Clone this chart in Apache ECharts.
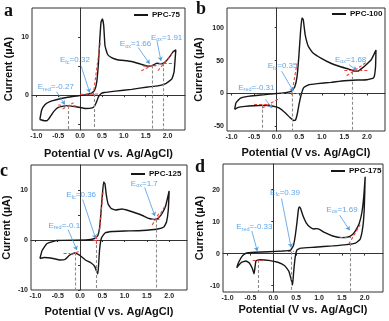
<!DOCTYPE html>
<html>
<head>
<meta charset="utf-8">
<script src="https://cdn.jsdelivr.net/npm/echarts@6/dist/echarts.min.js"></script>
<style>
  html, body { margin: 0; padding: 0; background: #fff; }
  #chart { width: 389px; height: 321px; }
</style>
</head>
<body>
<div id="chart"></div>
<script>
// x 轴刻度
const xTicks = [-1, -0.5, 0, 0.5, 1, 1.5, 2];

// CV 曲线 [电位 V, 电流 µA]
const cvA = [[-0.92,-4.2],[-0.88,-2.6],[-0.8,-1.6],[-0.69,-1.1],[-0.5,-0.7],[-0.31,-0.4],[-0.09,-0.15],[0.1,0.05],[0.25,0.3],[0.33,0.8],[0.38,2.2],[0.42,5.5],[0.45,9.5],[0.48,12.6],[0.51,13.1],[0.54,12],[0.57,8.5],[0.63,7.0],[0.73,6.4],[0.85,6.1],[0.96,6.0],[1.18,5.8],[1.4,5.3],[1.55,5.0],[1.66,5.1],[1.75,5.5],[1.85,5.4],[1.93,5.6],[2.04,6.5],[2.12,7.4],[2.19,7.8],
  [2.15,4.0],[2.1,2.8],[1.96,2.0],[1.78,1.6],[1.55,1.4],[1.18,1.0],[0.81,0.7],[0.55,0.45],[0.47,0.2],[0.42,-0.3],[0.38,-1.1],[0.33,-1.9],[0.28,-2.2],[0.13,-2.3],[-0.09,-2.0],[-0.31,-1.8],[-0.5,-2.1],[-0.6,-2.8],[-0.69,-3.8],[-0.76,-4.4],[-0.82,-4.4],[-0.92,-4.2]];
const cvB = [[-0.93,-24],[-0.9,-14],[-0.8,-7],[-0.6,-4],[-0.3,-2],[0,0],[0.2,1.2],[0.33,3.5],[0.4,10],[0.45,25],[0.49,55],[0.53,95],[0.56,115],[0.59,112],[0.63,90],[0.7,72],[0.8,62],[1.0,53],[1.2,46],[1.4,41],[1.6,37],[1.72,34],[1.8,34],[1.9,39],[2.0,45],[2.1,52],[2.2,66],
  [2.19,40],[2.15,24],[2.0,21],[1.8,20.5],[1.5,19.5],[1.2,17],[0.9,15],[0.7,13],[0.6,9],[0.55,0],[0.5,-15],[0.46,-30],[0.42,-40],[0.38,-41],[0.3,-37],[0.2,-30],[0.05,-22],[-0.1,-19],[-0.3,-18],[-0.5,-18.5],[-0.7,-19.5],[-0.85,-21],[-0.93,-24]];
const cvC = [[-0.9,-3.7],[-0.85,-2.1],[-0.74,-0.7],[-0.52,-0.1],[0.13,0],[0.33,0.3],[0.4,0.9],[0.44,2.5],[0.47,5.5],[0.5,9],[0.53,11.6],[0.56,11.2],[0.59,9],[0.63,7.2],[0.7,6.3],[0.8,6],[0.94,6.2],[1.08,5.9],[1.25,5.4],[1.4,4.9],[1.55,4.3],[1.68,4.1],[1.76,4.4],[1.84,5.3],[1.92,6.8],[2.0,9.8],
  [1.98,6],[1.94,3.6],[1.88,2.6],[1.74,2.2],[1.4,1.9],[1.0,1.8],[0.72,1.7],[0.56,1.4],[0.48,0.4],[0.44,-1.8],[0.42,-4.5],[0.4,-6.8],[0.37,-6.2],[0.33,-5.3],[0.25,-4.6],[0.12,-4.0],[0.0,-3.1],[-0.12,-2.6],[-0.23,-3.0],[-0.34,-3.9],[-0.45,-4.0],[-0.6,-3.7],[-0.8,-3.5],[-0.9,-3.7]];
const cvD = [[-0.8,-4.4],[-0.76,-2.8],[-0.68,-0.8],[-0.6,0.1],[-0.4,0.4],[-0.1,0.6],[0.2,0.8],[0.38,1.1],[0.44,2.5],[0.48,5.5],[0.52,10],[0.55,13.8],[0.57,14.6],[0.6,14],[0.65,11.8],[0.72,9.6],[0.8,8.3],[0.88,7.7],[0.95,7.8],[1.02,7.5],[1.12,6.6],[1.3,5.5],[1.5,5.0],[1.62,5.1],[1.72,5.8],[1.8,7.2],[1.88,9.4],[1.94,13],[1.98,18],[2.01,24],
  [1.99,14],[1.96,8.5],[1.9,4.5],[1.8,3.3],[1.6,2.8],[1.3,2.4],[0.9,2.0],[0.6,1.7],[0.52,1.2],[0.48,-1],[0.45,-5],[0.43,-8.5],[0.42,-9.8],[0.39,-8],[0.34,-5.5],[0.25,-3.8],[0.1,-2.7],[-0.1,-2.1],[-0.3,-1.9],[-0.38,-2.3],[-0.42,-6.3],[-0.46,-4.6],[-0.52,-3],[-0.6,-2.3],[-0.7,-2.8],[-0.8,-4.4]];

// y 轴刻度
const yLabelsA = [0, 10];
const yLabelsB = [-50, 0, 50, 100];
const yLabelsC = [-10, 0, 10];
const yLabelsD = [-10, 0, 10, 20];

// 标注文字 [下标, 数值, x, y]
const notesA = [['red','-0.27',-0.97,1.4],['fc','0.32',-0.46,6.0],['ox','1.66',0.91,8.8],['ox','1.91',1.62,9.9]];
const notesB = [['red','-0.31',-0.85,8.6],['fc','0.35',-0.2,41.6],['ox','1.68',1.29,51.8]];
const notesC = [['red','-0.1',-0.71,2.9],['fc','0.36',-0.31,9],['ox','1.7',1.14,11.3]];
const notesD = [['red','-0.33',-0.81,8.3],['fc','0.39',-0.07,19],['ox','1.69',1.16,13.7]];

// 箭头 [x1, y1, x2, y2]
const arrowsA = [[-0.54,0.6,-0.35,-1.6],[0.02,5.1,0.22,0.45],[1.33,8.2,1.59,5.4],[1.76,9.3,1.85,5.9]];
const arrowsB = [[-0.25,-9,-0.1,-22],[0.11,34,0.37,3.5],[1.6,44,1.77,35.5]];
const arrowsC = [[-0.27,2.1,-0.07,-2],[0.06,8.1,0.35,0.3],[1.45,10.5,1.68,4.8]];
const arrowsD = [[-0.47,7.1,-0.35,0.8],[0.18,17.2,0.39,1.9],[1.45,12,1.67,7.3]];

// 红色切线 [x1, y1, x2, y2]
const tangentsA = [[-0.5,-1.7,-0.05,-1.9],[-0.4,-2.4,-0.15,-1.3],[0.0,0.15,0.45,0.2],[0.3,0,0.46,9],[1.4,4.2,1.7,5.3],[1.45,5.0,1.8,5.1],[1.78,4.2,2.1,7.1],[1.8,5.5,2.15,5.5]];
const tangentsB = [[-0.5,-17,-0.15,-17],[-0.32,-22,0.07,-7],[0.1,0,0.55,0],[0.33,-2,0.45,45],[1.5,35,2.05,35],[1.55,27,2.0,48]];
const tangentsC = [[-0.37,-2.6,-0.22,-2.6],[-0.2,-2.9,0,-2.2],[0.3,0,0.43,0],[0.36,-0.8,0.36,0.8],[0.44,2,0.52,10],[1.6,4.2,1.8,4.2],[1.62,3.0,1.78,5.5],[1.75,4.4,1.92,7]];
const tangentsD = [[-0.45,-2,-0.2,-2],[0.32,0.8,0.45,0.8],[1.45,5,1.7,5],[1.65,3,1.9,9]];

// 灰色虚线 [x, y顶]
const guidesA = [[-0.27,-1.85],[0.32,0.2],[1.66,5.1],[1.91,5.5]];
const guidesB = [[-0.31,-17],[0.35,0],[1.68,33]];
const guidesC = [[-0.1,-2.5],[0.36,0],[1.7,4.1]];
const guidesD = [[-0.33,-2],[0.39,0.6],[1.69,3.2]];

const names = ['PPC-75', 'PPC-100', 'PPC-125', 'PPC-175'];
const FONT = 'Liberation Sans';

const grids = [
  { left: 32, top: 8, width: 153, height: 122 },
  { left: 227, top: 8, width: 158, height: 123 },
  { left: 30, top: 165, width: 157, height: 125 },
  { left: 223, top: 164, width: 160, height: 128 }
];
const yRanges = [[-6, 15], [-57, 130], [-10, 15], [-12, 28]];
const yTicksMinor = [[-5, 0, 5, 10], [-50, 0, 50, 100], [-10, -5, 0, 5, 10], [-10, 0, 10, 20]];
const yLabels = [yLabelsA, yLabelsB, yLabelsC, yLabelsD];
const xNameGap = [18, 16, 16, 12];
const yNameGap = [18, 23, 19, 18];

const chart = echarts.init(document.getElementById('chart'));

const xAxis = grids.map((g, i) => ({
  type: 'value', gridIndex: i, min: -1.1, max: 2.4,
  name: 'Potential (V vs. Ag/AgCl)', nameLocation: 'middle', nameGap: xNameGap[i],
  nameTextStyle: { fontFamily: FONT, fontWeight: 'bold', fontSize: 11, color: '#111' },
  axisLine: { show: true, lineStyle: { color: '#333', width: 1 } },
  axisTick: { show: true, length: 2, customValues: xTicks, lineStyle: { color: '#333' } },
  axisLabel: { customValues: xTicks, fontFamily: FONT, fontWeight: 'bold', fontSize: 7, color: '#222', margin: 3,
    formatter: v => v.toFixed(1) },
  splitLine: { show: false }
}));

const yAxis = grids.map((g, i) => ({
  type: 'value', gridIndex: i, min: yRanges[i][0], max: yRanges[i][1],
  name: 'Current (µA)', nameLocation: 'middle', nameGap: yNameGap[i],
  nameTextStyle: { fontFamily: FONT, fontWeight: 'bold', fontSize: 11, color: '#111' },
  axisLine: { show: true, lineStyle: { color: '#333', width: 1 } },
  axisTick: { show: true, length: 2, customValues: yTicksMinor[i], lineStyle: { color: '#333' } },
  axisLabel: { customValues: yLabels[i], fontFamily: FONT, fontWeight: 'bold', fontSize: 7, color: '#222', margin: 3 },
  splitLine: { show: false }
}));

const cvs = [cvA, cvB, cvC, cvD];
const notes = [notesA, notesB, notesC, notesD];
const arrows = [arrowsA, arrowsB, arrowsC, arrowsD];
const tangents = [tangentsA, tangentsB, tangentsC, tangentsD];
const guides = [guidesA, guidesB, guidesC, guidesD];

const series = [];
cvs.forEach((cv, i) => {
  series.push({
    name: names[i], type: 'line', xAxisIndex: i, yAxisIndex: i,
    data: cv, showSymbol: false, smooth: 0.12, z: 3,
    lineStyle: { color: '#161616', width: 1.4 }, itemStyle: { color: '#161616' }
  });
  const lines = [];
  guides[i].forEach(g => lines.push([
    { coord: [g[0], g[1]], lineStyle: { color: '#8a8a8a', type: [3, 2], width: 1.1 } },
    { coord: [g[0], yRanges[i][0]] }
  ]));
  tangents[i].forEach(t => lines.push([
    { coord: [t[0], t[1]], lineStyle: { color: '#e8403c', type: [3, 2], width: 1.1 } },
    { coord: [t[2], t[3]] }
  ]));
  arrows[i].forEach(a => lines.push([
    { coord: [a[0], a[1]], lineStyle: { color: '#4a9be6', type: 'solid', width: 0.8 } },
    { coord: [a[2], a[3]], symbol: 'arrow', symbolSize: 4 }
  ]));
  series.push({
    type: 'scatter', xAxisIndex: i, yAxisIndex: i, z: 4,
    symbolSize: 0, silent: true,
    data: notes[i].map(n => ({ value: [n[2], n[3]], sub: n[0], val: n[1] })),
    label: {
      show: true, position: 'right', distance: 0,
      formatter: p => `{e|E}{s|${p.data.sub}}{e|=${p.data.val}}`,
      rich: {
        e: { fontFamily: FONT, fontSize: 8, color: '#3a8ee0' },
        s: { fontFamily: FONT, fontSize: 5.5, color: '#3a8ee0', padding: [4, 0, 0, 0] }
      }
    },
    markLine: { silent: true, symbol: ['none', 'none'], label: { show: false }, data: lines }
  });
});

const legendPos = [[134, 11], [332, 10], [131, 170], [331, 167]];
const legend = names.map((n, i) => ({
  data: [n], left: legendPos[i][0], top: legendPos[i][1],
  icon: 'rect', itemWidth: 14, itemHeight: 2, itemGap: 0,
  padding: 0,
  textStyle: { fontFamily: FONT, fontWeight: 'bold', fontSize: 8, color: '#111', padding: [0, 0, 0, -1] }
}));

const letters = [['a', 4, 2], ['b', 196, 0], ['c', 0, 162], ['d', 195, 158]];
const title = letters.map(l => ({
  text: l[0], left: l[1], top: l[2], padding: 0,
  textStyle: { fontFamily: 'Liberation Serif', fontWeight: 'bold', fontSize: 18, color: '#111' }
}));

chart.setOption({
  animation: false,
  backgroundColor: '#fff',
  title: title,
  legend: legend,
  grid: grids.map(g => Object.assign({ show: true, borderColor: '#333', borderWidth: 1, containLabel: false }, g)),
  xAxis: xAxis,
  yAxis: yAxis,
  series: series
});
</script>
</body>
</html>
